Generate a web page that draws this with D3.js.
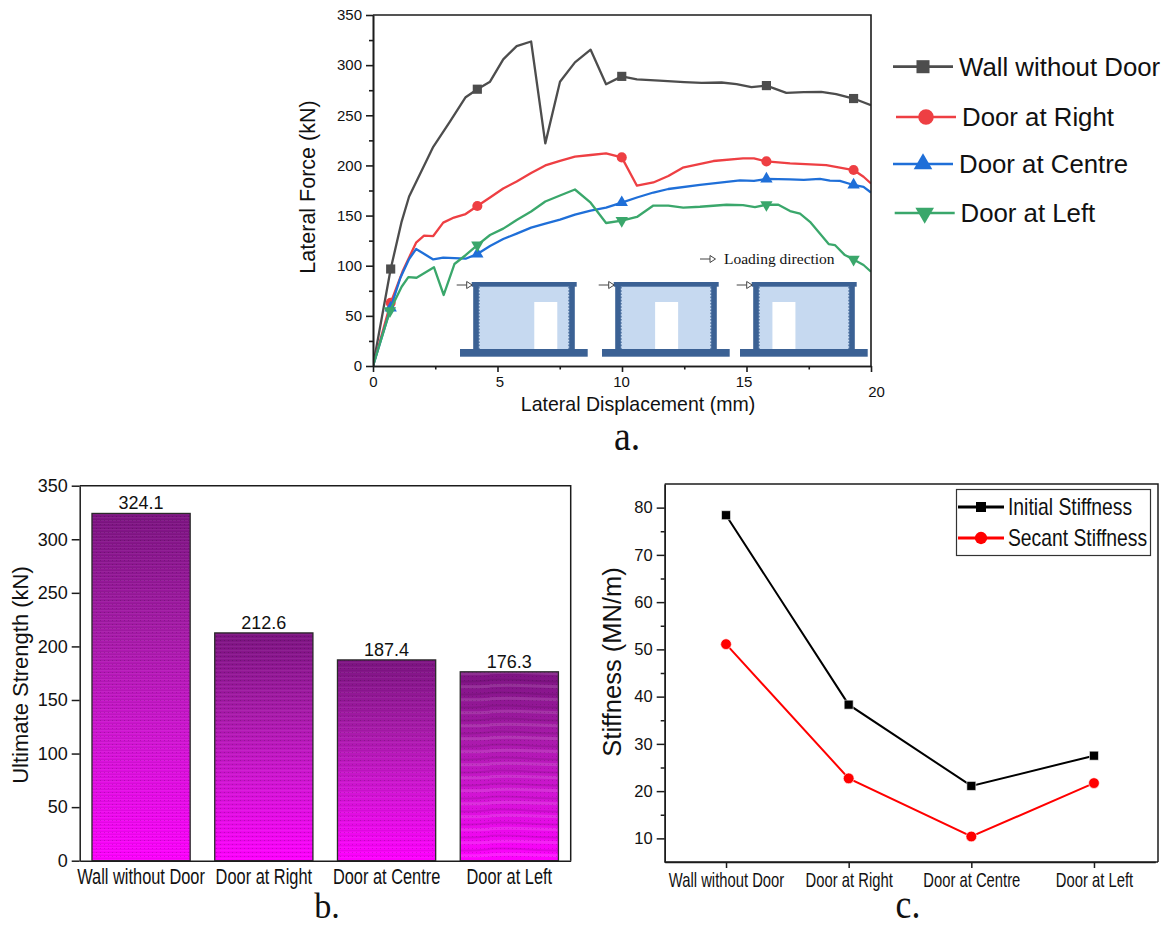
<!DOCTYPE html>
<html><head><meta charset="utf-8">
<script src="https://cdn.jsdelivr.net/npm/d3@7"></script>
<style>html,body{margin:0;padding:0;background:#fff}svg{display:block}text{font-family:"Liberation Sans",Arial,sans-serif;fill:#111}</style>
</head><body><svg id="c" width="1165" height="927"></svg>
<script>
const seriesNames = ["Wall without Door","Door at Right","Door at Centre","Door at Left"];
const wallCurve = [[0,0],[0.71,96.7],[1.15,144],[1.45,169],[2.42,218.6],[3.09,243.6],[3.72,268],[4.19,276],[4.7,283.5],[5.23,305.8],[5.77,319],[6.35,323.6],[6.92,222],[7.51,283.5],[8.11,302.8],[8.74,315.4],[9.36,281],[9.99,288.8],[10.6,285.8],[11.5,284.5],[12.5,283],[13.2,282.3],[14,282.7],[14.6,281],[15.2,278],[15.8,279.6],[16.6,272.3],[17.3,273],[18,273.4],[18.6,271],[19.3,266.7],[20,260]];
const rightCurve = [[0,0],[0.71,63],[1.2,95],[1.73,123],[2.05,130],[2.42,129.6],[2.82,143],[3.25,148],[3.72,151.5],[4.19,159.5],[4.7,168],[5.23,177],[5.77,184],[6.35,192.4],[6.92,200],[7.51,204.6],[8.11,208.7],[8.74,210.4],[9.36,212],[9.99,208],[10.6,179.8],[11.26,183],[11.86,189.4],[12.44,197.7],[13.67,204.4],[14.86,207],[15.3,207],[15.8,204],[16.75,202],[18.2,200.4],[19.3,195.4],[19.7,188.7],[20,182]];
const centreCurve = [[0,0],[0.71,58],[1.1,88],[1.45,106.7],[1.73,116.6],[2.42,106.3],[2.82,108],[3.72,107],[4.19,111.7],[4.7,119.6],[5.23,126.6],[5.77,132],[6.35,138],[6.92,142],[7.51,146],[8.11,151],[8.74,155],[9.36,158],[9.99,163],[10.6,168],[11.26,173],[11.86,176.5],[13.13,180.5],[14.74,185],[15.3,184.5],[15.8,186.5],[16.75,186],[17.3,185.5],[17.95,186.5],[18.35,184.8],[18.75,184.5],[19.3,180.5],[19.7,178.7],[20,173]];
const leftCurve = [[0,0],[0.68,55],[1.15,79],[1.42,88.7],[1.75,88],[2.45,98.4],[2.84,70.8],[3.27,101.7],[3.73,110.7],[4.19,120.6],[4.7,130.6],[5.23,137],[5.77,145.6],[6.35,154],[6.92,164],[7.51,170],[8.11,176],[8.74,162.8],[9.36,142.6],[9.99,145],[10.6,148.6],[11.26,160],[11.86,160],[12.46,158],[13.13,158.8],[14.2,160.8],[14.86,160.5],[15.34,158.5],[15.8,160.8],[16.28,160.8],[16.75,154.5],[17.15,152],[17.55,143.8],[18.3,121.6],[18.55,120.6],[18.95,110.6],[19.3,106.3],[19.7,100.7],[20,94]];
const markerXs = [0.71,0.68,4.19,9.99,15.8,19.3];
const xTicksA = [0,5,10,15,20], xMinorA = [2.5,7.5,12.5,17.5];
const yTicksA = [0,50,100,150,200,250,300,350], yMinorA = [25,75,125,175,225,275,325];
const strengthValues = [324.1,212.6,187.4,176.3];
const strengthTicks = [0,50,100,150,200,250,300,350];
const initialStiffness = [78.4,38.3,21.1,27.5];
const secantStiffness = [51.1,22.7,10.4,21.7];
const stiffTicks = [10,20,30,40,50,60,70,80], stiffMinor = [15,25,35,45,55,65,75];
const stiffNames = ["Initial Stiffness","Secant Stiffness"];

const svg = d3.select("#c");
const defs = svg.append("defs");
const INK = "#1c1c1c";

function squeeze(sel, f){ sel.each(function(){ const x=+this.getAttribute("x")||0; this.setAttribute("x",0); this.setAttribute("transform",`translate(${x},0) scale(${f},1)`); }); }
function styleAxis(g, w){ g.selectAll("path.domain").attr("stroke",INK).attr("stroke-width",w); g.selectAll("line").attr("stroke",INK).attr("stroke-width",w); }

// ---------- Panel a
const ax = d3.scaleLinear().domain([0,20]).range([373,871]);
const ay = d3.scaleLinear().domain([0,350]).range([366,15]);
defs.append("clipPath").attr("id","clipA").append("rect").attr("x",373).attr("y",15).attr("width",498).attr("height",351);
const a = svg.append("g");
const colors = ["#4d4d4d","#ee3f43","#1f6fd8","#3aa76b"];
const symbols = [d3.symbolSquare,d3.symbolCircle,d3.symbolTriangle,d3.symbolTriangle];
const symSizes = [84,80,66,66];
const curves = [wallCurve,rightCurve,centreCurve,leftCurve];
const line = d3.line().x(d=>ax(d[0])).y(d=>ay(d[1]));
const plot = a.append("g").attr("clip-path","url(#clipA)");
curves.forEach((c,i)=>{
  plot.append("path").attr("d",line(c)).attr("fill","none").attr("stroke",colors[i]).attr("stroke-width",2.3).attr("stroke-linejoin","round");
  plot.selectAll(null).data(c.filter(d=>markerXs.includes(d[0]))).join("path")
    .attr("d",d3.symbol().type(symbols[i]).size(symSizes[i]))
    .attr("transform",d=>`translate(${ax(d[0])},${ay(d[1])})${i===3?" rotate(180)":""}`)
    .attr("fill",colors[i]);
});
function drawDiagram(x0, span){
  const g = a.append("g");
  const blue="#3b6194", fill="#c6d9f0";
  const W=105;
  g.append("rect").attr("x",x0+6).attr("y",286).attr("width",92).attr("height",64).attr("fill",fill);
  g.append("rect").attr("x",x0+6+92*span).attr("y",302).attr("width",23).attr("height",48).attr("fill","#fff");
  g.append("rect").attr("x",x0).attr("y",282).attr("width",W).attr("height",4.7).attr("fill",blue);
  g.append("rect").attr("x",x0-11.7).attr("y",349).attr("width",127.7).attr("height",7.7).attr("fill",blue);
  [1.5,97.5].forEach(dx=>{
    g.append("rect").attr("x",x0+dx).attr("y",286).attr("width",5.6).attr("height",63).attr("fill",blue);
  });
  [7.3,97.3].forEach(dx=>{
    g.append("line").attr("x1",x0+dx).attr("x2",x0+dx).attr("y1",287).attr("y2",349).attr("stroke",blue).attr("stroke-width",1.2).attr("stroke-dasharray","1.6,1.6");
  });
  drawArrow(x0-15,285);
}
function drawArrow(x,y){
  a.append("line").attr("x1",x).attr("x2",x+10).attr("y1",y).attr("y2",y).attr("stroke","#444").attr("stroke-width",1);
  a.append("path").attr("d",`M${x+10},${y-3.5}L${x+15.5},${y}L${x+10},${y+3.5}Z`).attr("fill","#fff").attr("stroke","#444").attr("stroke-width",1);
}
drawDiagram(471.7,0.615);
drawDiagram(613.7,0.385);
drawDiagram(751.7,0.16);
drawArrow(700,259);
a.append("text").attr("x",724).attr("y",264).attr("font-size",15.5).style("font-family","'Liberation Serif',serif").text("Loading direction");

a.append("path").attr("d",`M373,15H871V366`).attr("fill","none").attr("stroke",INK).attr("stroke-width",1.6);
const ayG = a.append("g").attr("transform","translate(373,0)").call(d3.axisLeft(ay).tickValues(yTicksA).tickSize(7).tickPadding(4).tickSizeOuter(0));
a.append("g").attr("transform","translate(373,0)").call(d3.axisLeft(ay).tickValues(yMinorA).tickSize(4).tickFormat("").tickSizeOuter(0)).call(styleAxis,1.6);
ayG.call(styleAxis,1.6); ayG.selectAll("text").attr("font-size",15).style("font-family","'Liberation Sans'").attr("fill","#111");
const axG = a.append("g").attr("transform","translate(0,366)").call(d3.axisBottom(ax).tickValues(xTicksA).tickSize(6).tickPadding(4).tickSizeOuter(0));
a.append("g").attr("transform","translate(0,366)").call(d3.axisBottom(ax).tickValues(xMinorA).tickSize(3.5).tickFormat("").tickSizeOuter(0)).call(styleAxis,1.6);
axG.call(styleAxis,1.6); axG.selectAll("text").attr("font-size",15).style("font-family","'Liberation Sans'").attr("fill","#111");
const xNudge = {0:[0,0],5:[2,0],10:[-1,0],15:[-3,0],20:[5,10]};
axG.selectAll("g.tick text").attr("transform",d=>`translate(${xNudge[d][0]},${xNudge[d][1]})`);
a.append("text").attr("x",638).attr("y",411).attr("text-anchor","middle").attr("font-size",21).text("Lateral Displacement (mm)").call(squeeze,0.93);
a.append("text").attr("transform","translate(315,187) rotate(-90)").attr("text-anchor","middle").attr("font-size",21.5).text("Lateral Force (kN)");
const legY=[66.7,117,164,213], legX=[893,896,893,894.7], legT=[959,962,959,960.5], legB=[75.5,126,173,222];
seriesNames.forEach((n,i)=>{
  a.append("line").attr("x1",legX[i]).attr("x2",legX[i]+60).attr("y1",legY[i]).attr("y2",legY[i]).attr("stroke",colors[i]).attr("stroke-width",2.7);
  a.append("path").attr("d",d3.symbol().type(symbols[i]).size(i==0?170:(i==1?190:150))).attr("transform",`translate(${legX[i]+30},${legY[i]})${i===3?" rotate(180)":""}`).attr("fill",colors[i]);
  a.append("text").attr("x",legT[i]).attr("y",legB[i]).attr("font-size",25.8).text(n);
});
a.append("text").attr("x",627).attr("y",450).attr("text-anchor","middle").attr("font-size",42).style("font-family","'Liberation Serif',serif").text("a.").call(squeeze,0.9);

// ---------- Panel b
const bx = d3.scaleBand().domain(seriesNames).range([79.7,570.7]).paddingInner(0.2).paddingOuter(0.1);
const by = d3.scaleLinear().domain([0,350]).range([860.7,485.7]);
const grad = defs.append("linearGradient").attr("id","barGrad").attr("x1",0).attr("x2",0).attr("y1",0).attr("y2",1);
[[0,"#7d1482"],[0.35,"#a81aaa"],[0.65,"#d214d4"],[1,"#ff00ff"]].forEach(s=>grad.append("stop").attr("offset",s[0]).attr("stop-color",s[1]));
const texPeriods=[3,4,5,13];
texPeriods.forEach((p,i)=>{
  const pat=defs.append("pattern").attr("id","tex"+i).attr("patternUnits","userSpaceOnUse").attr("width",i===3?98:40).attr("height",p);
  if(i<3){
    pat.append("rect").attr("width",40).attr("height",1).attr("fill","#000").attr("opacity",0.055);
    pat.append("rect").attr("y",Math.floor(p/2)).attr("width",40).attr("height",1).attr("fill","#fff").attr("opacity",0.05);
  } else {
    pat.append("path").attr("d","M-2,4C25,1 60,9 100,4").attr("fill","none").attr("stroke","#300030").attr("stroke-width",2).attr("opacity",0.13);
    pat.append("path").attr("d","M-2,10C30,7 60,13 100,10").attr("fill","none").attr("stroke","#fff").attr("stroke-width",3).attr("opacity",0.12);
  }
});
const dots=defs.append("pattern").attr("id","dots").attr("patternUnits","userSpaceOnUse").attr("width",4).attr("height",4);
dots.append("rect").attr("width",1).attr("height",1).attr("fill","#000").attr("opacity",0.15);
const b = svg.append("g");
b.append("path").attr("d",`M79.7,485.7H570.7V860.7`).attr("fill","none").attr("stroke",INK).attr("stroke-width",1.5);
const bars=b.selectAll("g.bar").data(seriesNames.map((n,i)=>({n,v:strengthValues[i],i}))).join("g").attr("class","bar");
["url(#barGrad)",null,"url(#dots)"].forEach((f,k)=>{
  bars.append("rect").attr("x",d=>bx(d.n)).attr("y",d=>by(d.v)).attr("width",bx.bandwidth()).attr("height",d=>by(0)-by(d.v))
    .attr("fill",d=>f||`url(#tex${d.i})`);
});
bars.append("rect").attr("x",d=>bx(d.n)).attr("y",d=>by(d.v)).attr("width",bx.bandwidth()).attr("height",d=>by(0)-by(d.v)).attr("fill","none").attr("stroke","#2a2a2a").attr("stroke-width",1.3);
bars.append("text").attr("x",d=>bx(d.n)+bx.bandwidth()/2).attr("y",d=>by(d.v)-4).attr("text-anchor","middle").attr("font-size",18).text(d=>d.v.toFixed(1));
const byG=b.append("g").attr("transform","translate(79.7,0)").call(d3.axisLeft(by).tickValues(strengthTicks).tickSize(8).tickPadding(4).tickSizeOuter(0));
byG.call(styleAxis,1.5); byG.selectAll("text").attr("font-size",18).style("font-family","'Liberation Sans'").attr("fill","#111");
const bxG=b.append("g").attr("transform","translate(0,860.7)").call(d3.axisBottom(bx).tickSize(0).tickPadding(7.5).tickSizeOuter(0));
bxG.call(styleAxis,1.5); bxG.selectAll("text").attr("font-size",22).style("font-family","'Liberation Sans'").attr("fill","#111").call(squeeze,0.745);
b.append("text").attr("transform","translate(28,675) rotate(-90)").attr("text-anchor","middle").attr("font-size",22).text("Ultimate Strength (kN)");
b.append("text").attr("x",327).attr("y",918).attr("text-anchor","middle").attr("font-size",36).style("font-family","'Liberation Serif',serif").text("b.").call(squeeze,0.95);

// ---------- Panel c
const cx = d3.scalePoint().domain(seriesNames).range([664.7,1155.3]).padding(0.5);
const cy = d3.scaleLinear().domain([5,85]).range([862,484]);
const c = svg.append("g");
c.append("path").attr("d",`M664.7,484H1158V862`).attr("fill","none").attr("stroke",INK).attr("stroke-width",1.5);
const cyG=c.append("g").attr("transform","translate(664.7,0)").call(d3.axisLeft(cy).tickValues(stiffTicks).tickSize(8).tickPadding(4).tickSizeOuter(0));
c.append("g").attr("transform","translate(664.7,0)").call(d3.axisLeft(cy).tickValues(stiffMinor).tickSize(4).tickFormat("").tickSizeOuter(0)).call(styleAxis,1.5);
cyG.call(styleAxis,1.5); cyG.selectAll("text").attr("font-size",16.5).style("font-family","'Liberation Sans'").attr("fill","#111");
c.append("line").attr("x1",664.7).attr("x2",1158).attr("y1",862).attr("y2",862).attr("stroke",INK).attr("stroke-width",1.5);
const cxG=c.append("g").attr("transform","translate(0,862)").call(d3.axisBottom(cx).tickSize(6).tickPadding(5).tickSizeOuter(0));
cxG.call(styleAxis,1.5); cxG.selectAll("text").attr("font-size",20).style("font-family","'Liberation Sans'").attr("fill","#111").call(squeeze,0.74);
const cColors=["#000","#f00"], cSyms=[d3.symbolSquare,d3.symbolCircle], cSizes=[81,90];
[initialStiffness,secantStiffness].forEach((vals,k)=>{
  const l=d3.line().x((d,i)=>cx(seriesNames[i])).y(d=>cy(d));
  c.append("path").attr("d",l(vals)).attr("fill","none").attr("stroke",cColors[k]).attr("stroke-width",2);
  c.selectAll(null).data(vals).join("path").attr("d",d3.symbol().type(cSyms[k]).size(cSizes[k]))
    .attr("transform",(d,i)=>`translate(${cx(seriesNames[i])},${cy(d)})`).attr("fill",cColors[k]).attr("stroke","#fff").attr("stroke-width",0.6);
});
c.append("rect").attr("x",956.5).attr("y",489.5).attr("width",194).attr("height",66).attr("fill","#fff").attr("stroke","#333").attr("stroke-width",1.2);
stiffNames.forEach((n,k)=>{
  const y=[507,538][k];
  c.append("line").attr("x1",958).attr("x2",1004).attr("y1",y).attr("y2",y).attr("stroke",cColors[k]).attr("stroke-width",2.8);
  c.append("path").attr("d",d3.symbol().type(cSyms[k]).size(k?120:100)).attr("transform",`translate(981,${y})`).attr("fill",cColors[k]);
  c.append("text").attr("x",1008).attr("y",y+8).attr("font-size",23).text(n).call(squeeze,0.84);
});
c.append("text").attr("transform","translate(621,662) rotate(-90)").attr("text-anchor","middle").attr("font-size",25.5).text("Stiffness (MN/m)");
c.append("text").attr("x",908).attr("y",918).attr("text-anchor","middle").attr("font-size",42).style("font-family","'Liberation Serif',serif").text("c.").call(squeeze,0.85);
</script></body></html>
